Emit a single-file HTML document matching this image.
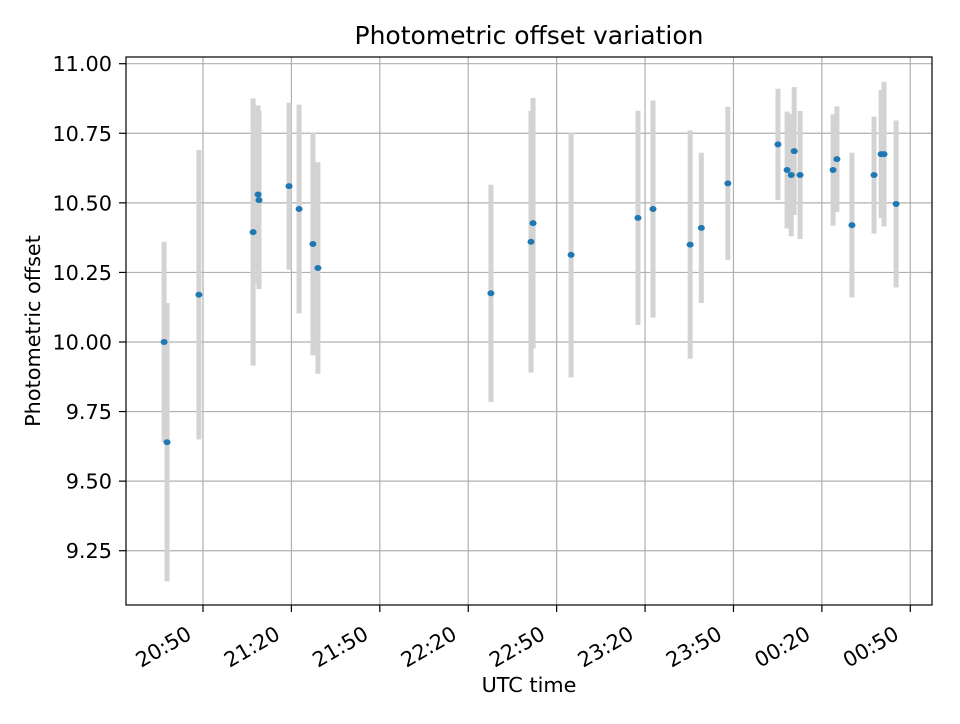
<!DOCTYPE html>
<html><head><meta charset="utf-8"><style>
body{margin:0;background:#fff;font-family:"DejaVu Sans","Liberation Sans",sans-serif}
</style></head><body>
<svg id="chart" width="960" height="720" xmlns="http://www.w3.org/2000/svg" font-family="'DejaVu Sans', 'Liberation Sans', sans-serif">
<rect width="960" height="720" fill="#fff"/>
<g id="grid"></g>
<g id="bars"></g>
<g id="pts"></g>
<rect x="126" y="57" width="806" height="548" fill="none" stroke="#000" stroke-width="1.2"/>
<g id="ticks"></g>
<text x="529" y="44" text-anchor="middle" font-size="25">Photometric offset variation</text>
<text x="529" y="692" text-anchor="middle" font-size="20.8">UTC time</text>
<text transform="translate(40,331) rotate(-90)" text-anchor="middle" font-size="20.8">Photometric offset</text>
</svg>
<script>
// minutes since 20:00 UTC
const times=[36.8,37.8,48.6,67.0,68.7,69.0,79.2,82.6,87.3,89.0,147.7,161.3,162.0,174.9,197.6,202.7,215.3,219.1,228.1,245.1,248.2,249.6,250.6,252.6,263.8,265.1,270.2,277.7,280.1,281.1,285.2];
const offsets=[10.00,9.64,10.17,10.395,10.53,10.51,10.56,10.478,10.352,10.266,10.175,10.36,10.427,10.313,10.446,10.478,10.35,10.41,10.57,10.71,10.618,10.60,10.686,10.60,10.618,10.657,10.42,10.60,10.675,10.675,10.496];
const errors=[0.36,0.50,0.52,0.48,0.32,0.32,0.30,0.375,0.40,0.38,0.39,0.47,0.45,0.44,0.385,0.39,0.41,0.27,0.275,0.20,0.21,0.22,0.23,0.23,0.20,0.19,0.26,0.21,0.23,0.26,0.30];
const yTicks=[9.25,9.50,9.75,10.00,10.25,10.50,10.75,11.00];
const xTickMins=[50,80,110,140,170,200,230,260,290];
const xTickLabels=["20:50","21:20","21:50","22:20","22:50","23:20","23:50","00:20","00:50"];
const NS="http://www.w3.org/2000/svg";
const X=m=>203+(m-50)*2.947;
const Y=v=>342-(v-10)*278.3;
function mk(tag,attrs,parent){const e=document.createElementNS(NS,tag);for(const k in attrs)e.setAttribute(k,attrs[k]);parent.appendChild(e);return e;}
const grid=document.getElementById('grid'),ticks=document.getElementById('ticks'),bars=document.getElementById('bars'),pts=document.getElementById('pts');
yTicks.forEach(v=>{const y=Y(v);
 const g=mk('line',{x1:126,x2:932,y1:y,y2:y,stroke:'#b0b0b0','stroke-width':1.2},grid);
 
 
 const t=mk('line',{x1:119,x2:126,y1:y,y2:y,stroke:'#000','stroke-width':1.2},ticks);
 
 
 const l=mk('text',{x:112,y:y+7.5,'text-anchor':'end','font-size':20.8},ticks);l.textContent=v.toFixed(2);
 
 
});
xTickMins.forEach((m,i)=>{const x=X(m);
 const g=mk('line',{x1:x,x2:x,y1:57,y2:605,stroke:'#b0b0b0','stroke-width':1.2},grid);
 
 
 const t=mk('line',{x1:x,x2:x,y1:605,y2:612,stroke:'#000','stroke-width':1.2},ticks);
 
 
 const l=mk('text',{'text-anchor':'end','font-size':20.8,transform:`translate(${x-10},${638}) rotate(-30)`},ticks);l.textContent=xTickLabels[i];
 
 
});
times.forEach((m,i)=>{const x=X(m);
 const b=mk('rect',{x:x-2.5,y:Y(offsets[i]+errors[i]),width:5,height:Y(offsets[i]-errors[i])-Y(offsets[i]+errors[i]),fill:'#d3d3d3'},bars);
 
 
 const c=mk('ellipse',{cx:x,cy:Y(offsets[i]),rx:3.5,ry:3,fill:'#1f77b4'},pts);
 
 
});
</script>
</body></html>
